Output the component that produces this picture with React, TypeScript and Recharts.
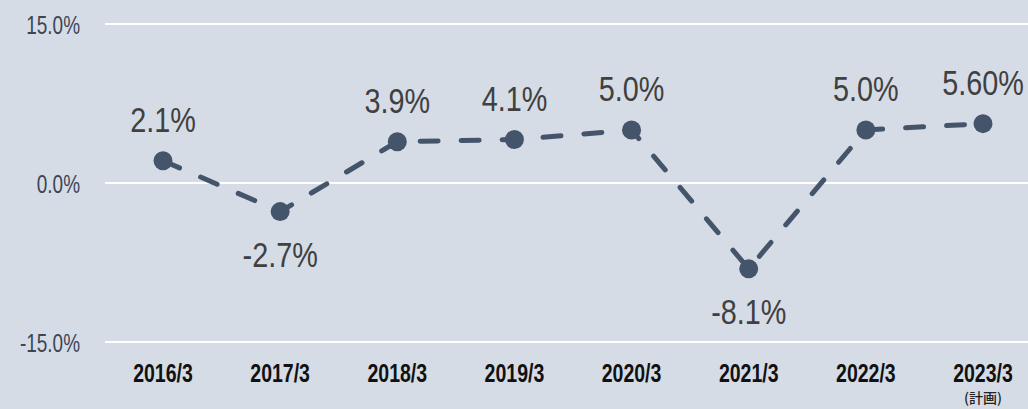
import { LineChart, Line, XAxis, YAxis, CartesianGrid, LabelList } from "recharts"

const years = ["2016/3", "2017/3", "2018/3", "2019/3", "2020/3", "2021/3", "2022/3", "2023/3"]
const growth = [2.1, -2.7, 3.9, 4.1, 5.0, -8.1, 5.0, 5.6]
const growthLabels = ["2.1%", "-2.7%", "3.9%", "4.1%", "5.0%", "-8.1%", "5.0%", "5.60%"]
const yTicks = [-15, 0, 15]

const data = years.map((year, i) => ({ year, value: growth[i], label: growthLabels[i] }))

const FONT = "'Liberation Sans', Arial, sans-serif"
const LINE_COLOR = "#44546a"

// no condensed font installed, so squeeze the text horizontally
const Narrow = ({ x, y, sx, children, ...rest }: any) => (
    <text transform={`translate(${x},${y}) scale(${sx},1)`} fontFamily={FONT} {...rest}>
        {children}
    </text>
)

const YTick = ({ y, payload }: any) => (
    <Narrow x={80} y={y + 9.5} sx={0.73} textAnchor="end" fill="#3a4658" fontSize={26}>
        {payload.value.toFixed(1)}%
    </Narrow>
)

const XTick = ({ x, payload }: any) => (
    <g>
        <Narrow x={x} y={382} sx={0.75} textAnchor="middle" fill="#111" fontWeight="bold" fontSize={26}>
            {payload.value}
        </Narrow>
        {payload.value === "2023/3" && (
            <text x={x} y={403} textAnchor="middle" fill="#222" fontWeight={500} fontFamily="'Noto Sans CJK JP', sans-serif" fontSize={14}>
                (計画)
            </text>
        )}
    </g>
)

const ValueLabel = ({ x, y, value, index }: any) => {
    const below = growth[index] < 0
    return (
        <Narrow x={x} y={below ? y + 55 : y - 29} sx={0.8} textAnchor="middle" fill="#404040" fontSize={36}>
            {value}
        </Narrow>
    )
}

export default function App() {
    return (
        <div style={{ position: "absolute", left: 0, top: 0, width: 1028, height: 409, overflow: "hidden", background: "#d6dce5" }}>
            <LineChart width={1028} height={409} data={data} margin={{ top: 24, right: 0, left: 0, bottom: 0 }}>
                <CartesianGrid horizontal vertical={false} stroke="#ffffff" strokeWidth={2} />
                <XAxis
                    dataKey="year"
                    axisLine={false}
                    tickLine={false}
                    padding={{ left: 58, right: 45 }}
                    tick={<XTick />}
                    interval={0}
                    height={67}
                />
                <YAxis
                    domain={[-15, 15]}
                    ticks={yTicks}
                    axisLine={false}
                    tickLine={false}
                    width={105}
                    tick={<YTick />}
                />
                <Line
                    type="linear"
                    dataKey="value"
                    stroke={LINE_COLOR}
                    strokeWidth={5}
                    strokeDasharray="18 23"
                    strokeLinecap="round"
                    dot={{ r: 9.5, fill: LINE_COLOR, stroke: "none" }}
                    isAnimationActive={false}
                >
                    <LabelList dataKey="label" content={<ValueLabel />} />
                </Line>
            </LineChart>
        </div>
    )
}
